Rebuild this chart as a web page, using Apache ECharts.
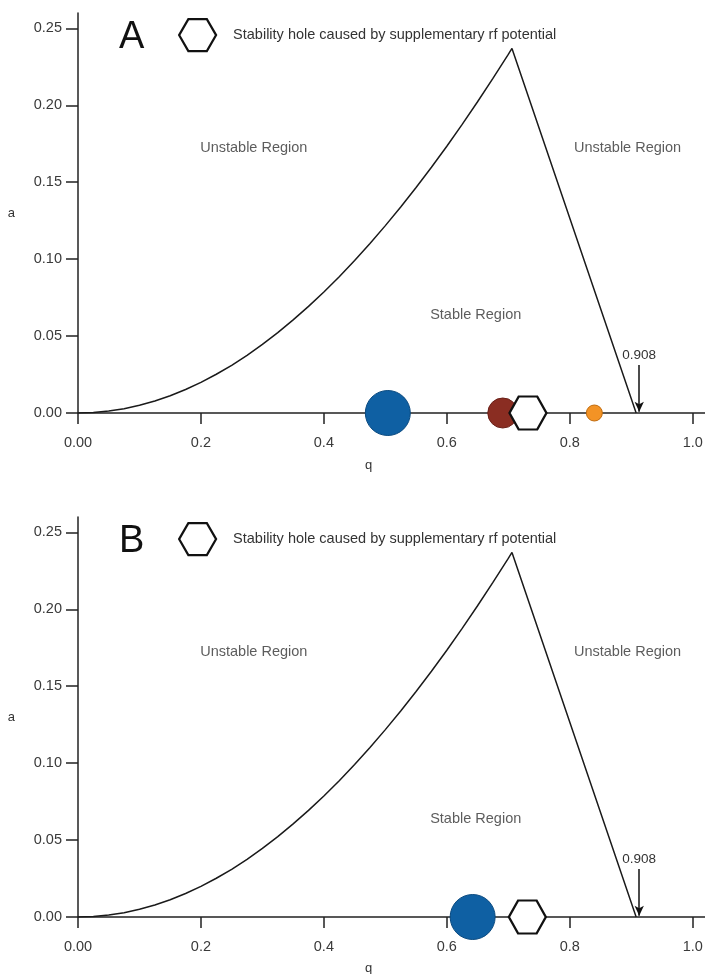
<!DOCTYPE html>
<html>
<head>
<meta charset="utf-8">
<script src="https://cdn.jsdelivr.net/npm/echarts@6/dist/echarts.min.js"></script>
<style>html,body{margin:0;padding:0;background:#fff}#c{width:705px;height:974px}</style>
</head>
<body>
<div id="c"></div>
<script>
// ---- data ----
const qBoundary = [0, 0.025, 0.05, 0.075, 0.1, 0.125, 0.15, 0.175, 0.2, 0.225, 0.25, 0.275, 0.3, 0.325, 0.35, 0.375, 0.4, 0.425, 0.45, 0.475, 0.5, 0.525, 0.55, 0.575, 0.6, 0.625, 0.65, 0.675, 0.7, 0.706, 0.908];
const aBoundary = [0, 0.0003, 0.0013, 0.0028, 0.0050, 0.0078, 0.0112, 0.0153, 0.0199, 0.0252, 0.0310, 0.0375, 0.0446, 0.0522, 0.0605, 0.0693, 0.0787, 0.0886, 0.0991, 0.1102, 0.1218, 0.1339, 0.1466, 0.1597, 0.1734, 0.1876, 0.2023, 0.2175, 0.2331, 0.2370, 0];
const xTickValues = [0, 0.2, 0.4, 0.6, 0.8, 1.0];
const xTickLabels = ['0.00', '0.2', '0.4', '0.6', '0.8', '1.0'];
const yTickValues = [0, 0.05, 0.10, 0.15, 0.20, 0.25];
const yTickLabels = ['0.00', '0.05', '0.10', '0.15', '0.20', '0.25'];
const cutoffQ = 0.908;
const arrowQ = 0.913;
const arrowTopA = 0.0312;
// panel A ions: [q, a]
const blueA = [0.504, 0];
const brownA = [0.691, 0];
const holeA = [0.732, 0];
const orangeA = [0.840, 0];
// panel B
const blueB = [0.642, 0];
const holeB = [0.731, 0];
const regionNames = ['Unstable Region', 'Unstable Region', 'Stable Region'];
const regionQ = [0.286, 0.894, 0.647];
const regionA = [0.172, 0.172, 0.0640];
const holeName = 'Stability hole caused by supplementary rf potential';
const panelLetters = ['A', 'B'];

// ---- chart ----
const FONT = 'Liberation Sans, Arial, sans-serif';
const hexPath = 'path://M0,43.3 L25,0 L75,0 L100,43.3 L75,86.6 L25,86.6 Z';
const boundary = qBoundary.map((q, i) => [q, aBoundary[i]]);
const regionData = regionQ.map((q, i) => [q, regionA[i], regionNames[i]]);

const panelTops = [13, 517];
const grids = panelTops.map(t => ({left: 78, width: 627, top: t, height: 400, containLabel: false, outerBoundsMode: 'none'}));

function xAxis(i) {
  return {
    gridIndex: i, type: 'value', min: 0, max: 1.02,
    name: 'q', nameLocation: 'middle', nameGap: i === 0 ? 46 : 45,
    nameTextStyle: {fontFamily: FONT, fontSize: 13, color: '#333', padding: [0, 46, 0, 0]},
    axisLine: {show: true, onZero: false, lineStyle: {color: '#222', width: 1.5}},
    axisTick: {show: true, length: 11, inside: false, customValues: xTickValues, lineStyle: {color: '#222', width: 1.5}},
    axisLabel: {show: true, margin: 22, fontFamily: FONT, fontSize: 14.5, color: '#3a3a3a',
      customValues: xTickValues,
      formatter: v => { const k = xTickValues.findIndex(t => Math.abs(t - v) < 1e-9); return k >= 0 ? xTickLabels[k] : ''; }},
    splitLine: {show: false}
  };
}
function yAxis(i) {
  return {
    gridIndex: i, type: 'value', min: 0, max: 0.26,
    name: 'a', nameLocation: 'middle', nameGap: 63, nameRotate: 0,
    nameTextStyle: {fontFamily: FONT, fontSize: 13, color: '#333'},
    axisLine: {show: true, lineStyle: {color: '#222', width: 1.5}},
    axisTick: {show: true, length: 12, customValues: yTickValues, lineStyle: {color: '#222', width: 1.5}},
    axisLabel: {show: true, margin: 16, fontFamily: FONT, fontSize: 14.5, color: '#3a3a3a',
      customValues: yTickValues,
      formatter: v => { const k = yTickValues.findIndex(t => Math.abs(t - v) < 1e-9); return k >= 0 ? yTickLabels[k] : ''; }},
    splitLine: {show: false}
  };
}

function curveSeries(i) {
  return {
    type: 'line', xAxisIndex: i, yAxisIndex: i, data: boundary, symbol: 'none', smooth: false,
    lineStyle: {color: '#1a1a1a', width: 1.5}, z: 3, silent: true,
    markLine: {
      silent: true, symbol: ['none', 'arrow'], symbolSize: [7, 10], animation: false,
      lineStyle: {color: '#111', width: 1.5, type: 'solid'},
      label: {show: true, position: 'start', formatter: String(cutoffQ), fontFamily: FONT, fontSize: 13.5, color: '#333', distance: 3},
      data: [[{coord: [arrowQ, arrowTopA]}, {coord: [arrowQ, 0.0008]}]]
    }
  };
}
function circle(i, pt, size, color, border) {
  return {type: 'scatter', xAxisIndex: i, yAxisIndex: i, data: [pt], symbol: 'circle', symbolSize: size,
    itemStyle: {color: color, borderColor: border, borderWidth: 1, opacity: 1}, z: 5, silent: true};
}
function hex(i, pt) {
  return {name: holeName, type: 'scatter', xAxisIndex: i, yAxisIndex: i, data: [pt], symbol: hexPath, symbolSize: [37, 33],
    symbolKeepAspect: false,
    itemStyle: {color: '#fff', borderColor: '#111', borderWidth: 2.2, opacity: 1}, z: 6, silent: true};
}
function regionSeries(i) {
  return {type: 'scatter', xAxisIndex: i, yAxisIndex: i, data: regionData, symbolSize: 1,
    itemStyle: {color: 'rgba(0,0,0,0)'}, silent: true,
    label: {show: true, position: 'inside', formatter: p => p.data[2], fontFamily: FONT, fontSize: 14.5, color: '#333'}};
}

const option = {
  animation: false,
  backgroundColor: '#fff',
  textStyle: {fontFamily: FONT},
  title: panelLetters.map((L, i) => ({text: L, left: 114, top: panelTops[i] + 1,
    textStyle: {fontFamily: FONT, fontSize: 38, fontWeight: 'normal', color: '#111'}})),
  legend: [0, 1].map(i => ({
    left: 178, top: panelTops[i] + 5, padding: 0, itemWidth: 37, itemHeight: 33, selectedMode: false,
    data: [{name: holeName, icon: hexPath, itemStyle: {color: '#fff', borderColor: '#111', borderWidth: 2.2}}],
    textStyle: {fontFamily: FONT, fontSize: 14.5, color: '#333', padding: [0, 0, 0, 12]}
  })),
  grid: grids,
  xAxis: [xAxis(0), xAxis(1)],
  yAxis: [yAxis(0), yAxis(1)],
  series: [
    curveSeries(0), regionSeries(0),
    circle(0, blueA, 45, '#0f60a3', '#0a4a80'),
    circle(0, brownA, 30, '#8a2d22', '#6a2018'),
    hex(0, holeA),
    circle(0, orangeA, 16, '#f39325', '#c06c10'),
    curveSeries(1), regionSeries(1),
    circle(1, blueB, 45, '#0f60a3', '#0a4a80'),
    hex(1, holeB)
  ]
};
echarts.init(document.getElementById('c'), null, {renderer: 'canvas'}).setOption(option);
</script>
</body>
</html>
